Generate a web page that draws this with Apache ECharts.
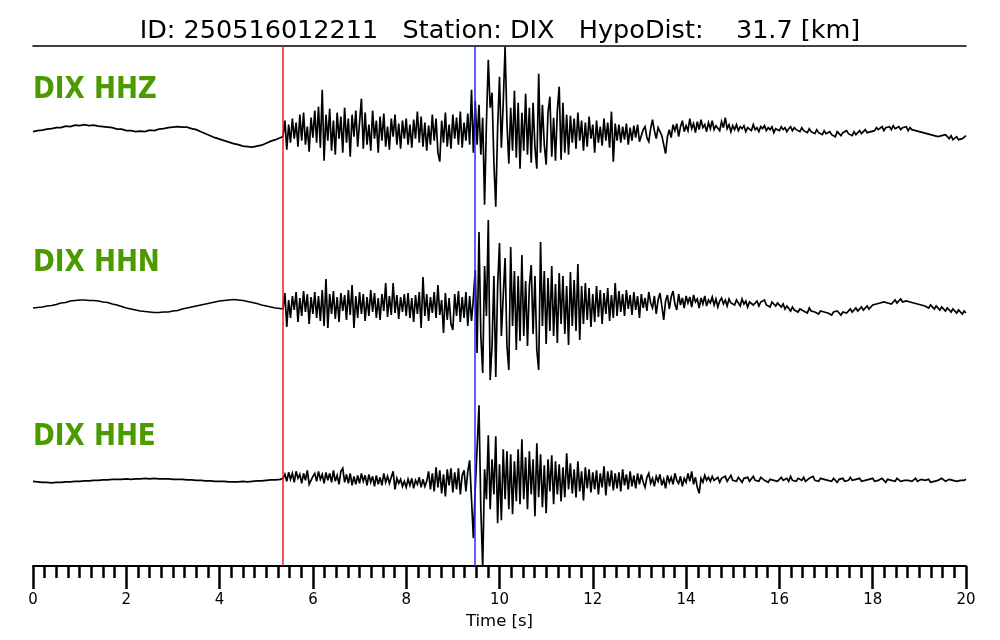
<!DOCTYPE html>
<html><head><meta charset="utf-8">
<script src="https://cdn.jsdelivr.net/npm/echarts@6/dist/echarts.min.js"></script>
<style>html,body{margin:0;padding:0;background:#fff}#c{width:1000px;height:640px}</style>
</head><body><div id="c"></div>
<script>
const titleText = 'ID: 250516012211   Station: DIX   HypoDist:    31.7 [km]';
const channels = ['DIX HHZ', 'DIX HHN', 'DIX HHE'];
const xTicks = [0, 2, 4, 6, 8, 10, 12, 14, 16, 18, 20];
const pPick = 5.35, sPick = 9.46;
// sampling (s)
const preStep = 0.1, mainStart = 5.36, mainStep = 0.04, codaStart = 13.04, codaStep = 0.04;

const hhzPre = [1,2,2.5,3.5,4,5,5,6.5,6,7.5,7,8,7,7.5,6.5,6,5.5,5,3.5,3.5,2,2,1,1.5,1,2.5,2,3.5,4,5,5.5,6,5.5,5.5,4,3,1,-1,-3,-5,-6.5,-8,-9.5,-11,-12,-13.5,-14,-14.5,-13.5,-12.5,-10.5,-8.5,-7,-5];
const hhzMain = [-4,12,-17,8,-10,14,-6,10,-14,18,-8,20,-12,6,-19,15,-5,
 22,-10,26,-15,43,-28,18,-8,24,-18,12,-22,20,-6,16,-20,25,-10,14,-24,18,-4,22,-14,
 10,34,-16,20,-12,8,-18,22,-6,12,-20,16,-8,19,-14,6,-17,14,-4,18,-12,9,-16,12,-6,
 14,-12,8,-15,13,-6,21,-10,16,-14,10,-18,7,-12,18,-8,14,-20,-29,12,-10,20,-14,8,-16,
 18,-6,15,-12,21,-15,10,-8,19,-12,43,-20,
 32,-12,28,-22,15,-72,10,73,25,40,-30,-74,5,56,-15,30,86,10,-31,25,-18,42,-25,30,-36,
 20,-18,39,-22,25,-30,30,-15,-36,59,-20,28,-12,-32,20,36,-24,15,-28,22,46,-27,30,-20,18,-22,
 17,-10,14,-16,20,-8,12,-18,10,-14,16,-6,8,-20,12,-10,6,-13,14,-8,10,-15,21,-29,9,-8,
 8,-10,6,-7,9,-12,5,-8,7,-5,8,-9];
const hhzCoda = [-8,3,6,-5,-9,4,13,2,-6,5,4,-3,-12,-21,-4,3,-5,8,2,9,-4,6,12,1,7,
 2,14,4,9,0,11,3,13,5,8,1,10,4,12,3,7,9,2,11,5,15,4,8,1,7,
 3,8,2,6,4,7,1,5,6,2,8,3,5,1,6,4,7,2,5,3,6,0,4,5,2,
 6,3,5,1,4,6,2,5,3,4,1,5,2,3,0,4,1,2,-1,3,0,1,-2,2,-1,
 -3,1,-2,0,-4,1,-1,-3,0,-2,2,-1,0,-3,1,-2,0,2,-1,1,3,0,2,1,3,
 2,5,3,4,6,2,5,4,6,3,7,4,5,6,3,5,4,6,2,5,3,4,2,3,1,
 3,0,2,-1,1,-2,0,-3,-1,-4,-2,-3,-5,-2,-4,-6,-3,-7,-5,-4,-7,-5,-6,-4,-3];

const hhnPre = [-2,-1.5,-1,0,0.5,1.5,3,3.5,5,5.5,6,6,5.5,5.5,5,4,3.5,2,1,-0.5,-2,-3,-4,-5,-5.5,-6,-6.5,-6.5,-6,-6,-5,-4.5,-3,-2,-1,0,1,2,3,4,5,5.5,6,6.5,6,5.5,4.5,3.5,2.5,1,0,-1,-2,-2.5];
const hhnMain = [-3,13,-21,6,-12,10,-4,14,-16,8,-10,15,-6,12,-18,9,-8,
 14,-12,10,-15,16,-20,27,-22,12,-8,15,-13,9,-16,13,-5,11,-14,16,-9,21,-22,10,-12,
 14,-8,12,-15,9,-10,16,-6,13,-12,8,-14,12,-5,23,-11,10,-9,23,-7,11,-13,9,-6,12,
 -10,13,-12,8,-16,11,-8,14,-22,29,-10,12,-15,9,-7,14,-12,21,-9,6,-27,13,-14,8,-18,
 -24,12,-10,15,-16,9,-12,14,-20,10,-15,8,
 36,-47,74,-30,-67,40,-10,86,-74,-40,30,-71,20,63,-30,10,48,-40,-64,59,-20,35,-44,30,-35,
 51,-30,25,-40,20,41,-28,30,-44,-64,64,-20,35,-38,28,-25,40,-30,22,-37,33,-18,30,-28,20,-39,
 34,-20,26,-25,42,-34,20,-18,23,-14,18,-21,12,-16,20,-11,16,-18,13,-8,18,-15,11,-12,23,-10,
 15,-6,12,-10,16,-3,11,-9,14,-4,10,-12];
const hhnCoda = [12,-2,8,-5,14,3,-2,10,-8,6,13,0,-14,5,11,-3,9,15,2,-4,12,1,8,-2,10,
 3,9,-1,11,4,7,-2,8,2,10,0,6,3,9,1,7,-1,5,8,2,6,0,7,3,5,
 1,6,4,0,7,2,5,-1,4,6,1,3,5,0,4,2,6,1,3,-1,4,2,0,3,1,
 -1,2,-3,0,-2,-5,-1,-4,-2,-6,-3,-1,-5,-4,-7,-2,-5,-3,-6,-4,-8,-5,-3,-6,-4,
 -7,-5,-9,-6,-8,-5,-7,-9,-6,-4,-7,-5,-3,-6,-4,-2,-5,-3,-1,-4,-2,0,-3,-1,1,
 -1,2,0,3,1,4,2,3,5,2,4,6,3,5,7,4,6,5,7,4,6,3,5,2,4,
 1,3,0,2,-2,1,-1,-3,0,-2,-4,-1,-3,-5,-2,-4,-6,-3,-5,-7,-4,-6,-8,-5,-7];

const hhePre = [-2,-2.5,-3,-3,-3.5,-3,-3,-2.5,-2.5,-2,-2,-1.5,-1.5,-1,-1,-0.5,-0.5,0,0,0,0.5,0,0.5,0.5,1,0.5,1,0.5,0.5,0.5,0,0,0,-0.5,-0.5,-1,-1,-1.5,-1.5,-2,-2,-2,-2.5,-2.5,-2.5,-2,-2.5,-2,-1.5,-1.5,-1,-0.5,-0.5,0];
const hheMain = [1,5,-2,7,0,6,-3,8,1,5,-4,6,-1,9,-5,-7,3,
 6,-2,8,0,5,-4,7,-1,6,-3,9,-2,4,-5,8,11,-3,5,-4,6,-6,3,-5,4,
 -4,6,-2,4,-6,5,-3,3,-7,4,-5,2,-6,6,-3,3,-4,2,8,-10,1,-4,0,-7,-2,
 -8,0,-6,1,-9,-1,-5,2,-8,0,-7,-2,8,-10,6,-12,12,-8,9,-14,5,-17,10,-6,11,
 -13,7,-10,11,-15,4,9,-12,8,19,-20,-59,
 -10,31,74,-30,-88,10,-20,44,-30,20,-15,43,-44,15,-41,30,-20,28,-30,25,-35,18,-22,30,-25,
 40,-20,22,-30,28,-15,20,-37,36,-18,25,-28,14,-34,20,-12,24,-25,18,-15,15,-22,12,-18,26,-10,
 16,-14,10,-18,18,-12,8,-21,12,-9,10,-13,7,-10,9,-15,6,-8,13,-16,8,-7,9,-11,6,-9,
 7,-12,10,-6,5,-10,8,-7,4,-9,6,-5];
const hheCoda = [5,-3,-8,2,6,-4,1,-7,3,-2,5,-6,0,-9,4,-3,2,-5,6,-1,-4,3,-7,1,-3,
 6,-2,8,-5,2,-8,-14,1,-3,4,-1,2,-2,3,-1,0,2,-3,1,-1,3,-2,0,4,-1,
 1,-2,2,0,-3,1,-1,2,-2,0,3,-1,1,-2,2,0,-1,1,-3,0,2,-1,1,-2,0,
 2,-1,0,1,-2,3,-1,0,-2,1,0,-1,2,-2,0,1,-1,3,-1,0,-2,1,-1,0,2,
 -1,0,-2,1,-1,-3,0,-1,1,-2,0,-1,2,-1,-2,0,-1,1,-2,0,-1,-3,0,-1,1,
 -2,0,-1,-2,1,-1,-3,0,-2,-1,0,-2,1,-1,-2,0,-1,-3,-1,0,-2,-1,1,-2,-1,
 0,-2,-1,-1,0,-3,-1,-2,0,-1,-2,1,-1,-2,-1,0,-2,-1,-1,-2,0,-1,-2,-1,0];

const traces = [[hhzPre, hhzMain, hhzCoda], [hhnPre, hhnMain, hhnCoda], [hhePre, hheMain, hheCoda]];
const bandH = 520 / 3;
const offsets = [bandH, 0, -bandH];

function build(parts, off) {
  const d = [];
  parts[0].forEach((v, k) => d.push([+(k * preStep).toFixed(3), v + off]));
  parts[1].forEach((v, i) => d.push([+(mainStart + i * mainStep).toFixed(3), v + off]));
  parts[2].forEach((v, k) => d.push([+(codaStart + k * codaStep).toFixed(3), v + off]));
  return d;
}

const chart = echarts.init(document.getElementById('c'), null, {renderer: 'canvas'});
const series = traces.map((p, i) => ({
  type: 'line', data: build(p, offsets[i]), showSymbol: false, symbol: 'none',
  lineStyle: {color: '#000', width: 1.7, join: 'miter', miterLimit: 4}, itemStyle: {color: '#000'},
  xAxisIndex: 0, yAxisIndex: 0, z: 3, silent: true
}));
series[0].markLine = {
  silent: true, symbol: ['none', 'none'], animation: false, label: {show: false},
  data: [
    {xAxis: pPick, lineStyle: {color: '#e8211e', width: 1.5, type: 'solid'}},
    {xAxis: sPick, lineStyle: {color: '#2b2bf0', width: 1.5, type: 'solid'}}
  ]
};

chart.setOption({
  animation: false,
  backgroundColor: '#fff',
  title: {
    text: titleText, left: 'center', top: 13,
    textStyle: {fontFamily: 'DejaVu Sans', fontSize: 25.5, fontWeight: 'normal', color: '#000'}
  },
  grid: {left: 33, right: 34, top: 46, bottom: 74, containLabel: false},
  xAxis: [{
    type: 'value', min: xTicks[0], max: xTicks[xTicks.length - 1], interval: 2, position: 'bottom',
    axisLine: {show: true, onZero: false, lineStyle: {color: '#000', width: 2}},
    axisTick: {show: true, inside: false, length: 23, lineStyle: {color: '#000', width: 2.5}},
    minorTick: {show: true, splitNumber: 8, length: 12, lineStyle: {color: '#000', width: 2.5}},
    axisLabel: {color: '#000', fontFamily: 'DejaVu Sans', fontSize: 15, margin: 27},
    splitLine: {show: false},
    name: 'Time [s]', nameLocation: 'middle', nameGap: 38,
    nameTextStyle: {color: '#000', fontFamily: 'DejaVu Sans', fontSize: 16.5}
  }, {
    type: 'value', min: 0, max: 20, position: 'top',
    axisLine: {show: true, onZero: false, lineStyle: {color: '#000', width: 1.6}},
    axisTick: {show: false}, axisLabel: {show: false}, splitLine: {show: false}
  }],
  yAxis: {type: 'value', min: -260, max: 260, show: false, splitLine: {show: false}},
  graphic: channels.map((c, i) => ({
    type: 'text', x: 33, y: 90 + i * 173.5, scaleX: 0.875, silent: true,
    style: {text: c, fill: '#4b9a00', font: 'bold 30px "DejaVu Sans"', verticalAlign: 'middle', align: 'left'}
  })),
  series: series
});
</script></body></html>
